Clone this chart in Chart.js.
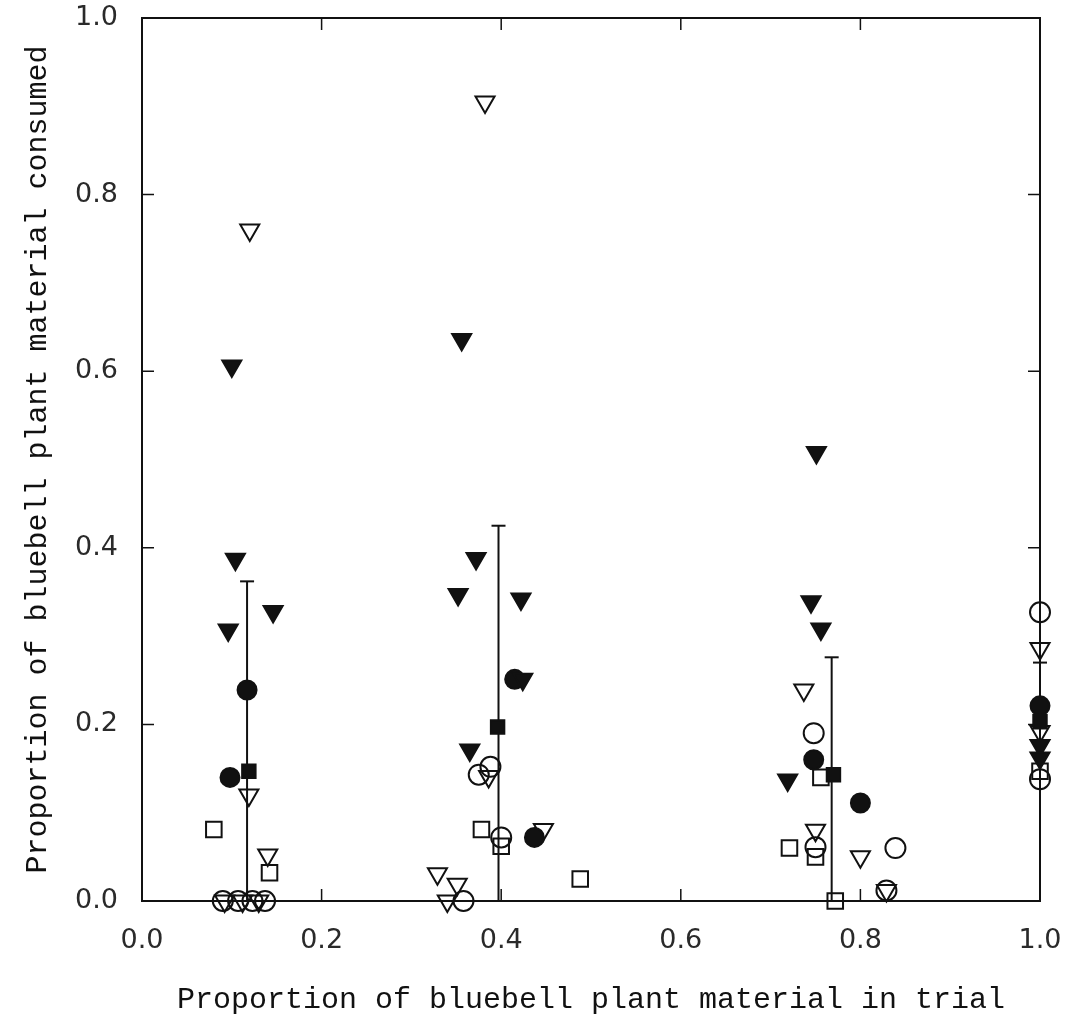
<!DOCTYPE html>
<html>
<head>
<meta charset="utf-8">
<script src="https://cdn.jsdelivr.net/npm/chart.js@4.4.1/dist/chart.umd.min.js"></script>
<style>
  html, body { margin: 0; padding: 0; background: #fff; }
  canvas { display: block; }
</style>
</head>
<body>
<canvas id="chart" width="1076" height="1023"></canvas>
<script>
// filled triangles (down)
var filledTriX = [0.100, 0.104, 0.146, 0.096, 0.356, 0.372, 0.352, 0.422, 0.424, 0.365, 0.751, 0.745, 0.756, 0.719, 1.0, 1.0];
var filledTriY = [0.606, 0.387, 0.328, 0.307, 0.636, 0.388, 0.347, 0.342, 0.251, 0.171, 0.508, 0.339, 0.308, 0.137, 0.176, 0.162];

// open triangles (down)
var openTriX = [0.120, 0.119, 0.140, 0.092, 0.112, 0.130, 0.382, 0.386, 0.447, 0.329, 0.351, 0.340, 0.737, 0.750, 0.800, 0.829, 1.0, 1.0];
var openTriY = [0.760, 0.120, 0.052, 0.000, 0.000, 0.000, 0.905, 0.141, 0.081, 0.031, 0.019, 0.000, 0.239, 0.080, 0.050, 0.012, 0.286, 0.192];

// filled circles
var filledCircX = [0.117, 0.098, 0.415, 0.437, 0.748, 0.800, 1.0];
var filledCircY = [0.239, 0.140, 0.251, 0.072, 0.160, 0.111, 0.221];

// open circles
var openCircX = [0.090, 0.107, 0.123, 0.137, 0.375, 0.388, 0.400, 0.358, 0.748, 0.750, 0.839, 0.829, 1.0, 1.0];
var openCircY = [0.000, 0.000, 0.000, 0.000, 0.143, 0.152, 0.072, 0.000, 0.190, 0.061, 0.060, 0.012, 0.327, 0.138];

// open squares
var openSqX = [0.080, 0.142, 0.378, 0.400, 0.488, 0.756, 0.750, 0.721, 0.772, 1.0];
var openSqY = [0.081, 0.032, 0.081, 0.062, 0.025, 0.140, 0.050, 0.060, 0.000, 0.147];

// filled squares (means) and error bars
var meanX = [0.119, 0.396, 0.770, 1.0];
var meanY = [0.147, 0.197, 0.143, 0.203];
var barX = [0.117, 0.397, 0.768, 1.0];
var barLow = [0.000, 0.000, 0.000, 0.138];
var barHigh = [0.362, 0.425, 0.276, 0.270];

var tickVals = [0.2, 0.4, 0.6, 0.8];

function pts(xs, ys) {
    return xs.map((x, i) => ({x: x, y: ys[i]}));
}

var ink = '#111';

function marker(data, style, r, filled, rot) {
    return {
        type: 'scatter',
        data: data,
        pointStyle: style,
        pointRadius: r,
        pointHoverRadius: r,
        rotation: rot || 0,
        borderColor: ink,
        backgroundColor: filled ? ink : 'rgba(0,0,0,0)',
        borderWidth: 2,
        clip: false
    };
}

var datasets = [
    marker(pts(meanX, meanY), 'rect', 9.5, true),
    marker(pts(filledTriX, filledTriY), 'triangle', 11, true, 180),
    marker(pts(filledCircX, filledCircY), 'circle', 9.5, true),
    marker(pts(openTriX, openTriY), 'triangle', 11, false, 180),
    marker(pts(openCircX, openCircY), 'circle', 10, false),
    marker(pts(openSqX, openSqY), 'rect', 11, false)
];

// error bar caps
datasets.push({
    type: 'scatter',
    data: pts(barX, barHigh),
    pointStyle: 'line',
    pointRadius: 7,
    borderColor: ink,
    borderWidth: 2,
    clip: false
});

// error bar stems
barX.forEach((x, i) => {
    datasets.push({
        type: 'line',
        data: [{x: x, y: barLow[i]}, {x: x, y: barHigh[i]}],
        borderColor: ink,
        borderWidth: 2,
        pointRadius: 0,
        fill: false,
        clip: false
    });
});

const frame = {
    id: 'frame',
    beforeDatasetsDraw(chart) {
        const {ctx, chartArea: a, scales: {x, y}} = chart;
        ctx.save();
        ctx.strokeStyle = ink;
        ctx.lineWidth = 2;
        ctx.strokeRect(a.left, a.top, a.right - a.left, a.bottom - a.top);
        ctx.lineWidth = 1.5;
        ctx.beginPath();
        tickVals.forEach(v => {
            const px = x.getPixelForValue(v);
            const py = y.getPixelForValue(v);
            ctx.moveTo(px, a.bottom); ctx.lineTo(px, a.bottom - 12);
            ctx.moveTo(px, a.top); ctx.lineTo(px, a.top + 12);
            ctx.moveTo(a.left, py); ctx.lineTo(a.left + 12, py);
            ctx.moveTo(a.right, py); ctx.lineTo(a.right - 12, py);
        });
        ctx.stroke();
        ctx.restore();
    }
};

var tickFont = {family: 'DejaVu Sans', size: 27};
var titleFont = {family: 'Liberation Mono', size: 30};

new Chart(document.getElementById('chart'), {
    type: 'scatter',
    data: {datasets: datasets},
    options: {
        responsive: false,
        animation: false,
        events: [],
        layout: {padding: {top: 18, right: 36, left: 0, bottom: 0}},
        plugins: {
            legend: {display: false},
            tooltip: {enabled: false}
        },
        scales: {
            x: {
                type: 'linear',
                min: 0,
                max: 1,
                grid: {display: false, drawTicks: false},
                border: {display: false},
                ticks: {
                    stepSize: 0.2,
                    padding: 24,
                    color: '#2a2a2a',
                    font: tickFont,
                    maxRotation: 0,
                    callback: v => v.toFixed(1)
                },
                title: {
                    display: true,
                    text: 'Proportion of bluebell plant material in trial',
                    color: ink,
                    font: titleFont,
                    padding: {top: 0, bottom: 5}
                },
                afterFit: s => {
                    s.height = 122;
                    s.paddingLeft = 0;
                    s.paddingRight = 0;
                }
            },
            y: {
                type: 'linear',
                min: 0,
                max: 1,
                grid: {display: false, drawTicks: false},
                border: {display: false},
                ticks: {
                    stepSize: 0.2,
                    padding: 24,
                    color: '#2a2a2a',
                    font: tickFont,
                    callback: v => v.toFixed(1)
                },
                title: {
                    display: true,
                    text: 'Proportion of bluebell plant material consumed',
                    color: ink,
                    font: titleFont,
                    padding: {top: 20, bottom: 0}
                },
                afterFit: s => {
                    s.width = 142;
                    s.paddingTop = 0;
                    s.paddingBottom = 0;
                }
            }
        }
    },
    plugins: [frame]
});
</script>
</body>
</html>
